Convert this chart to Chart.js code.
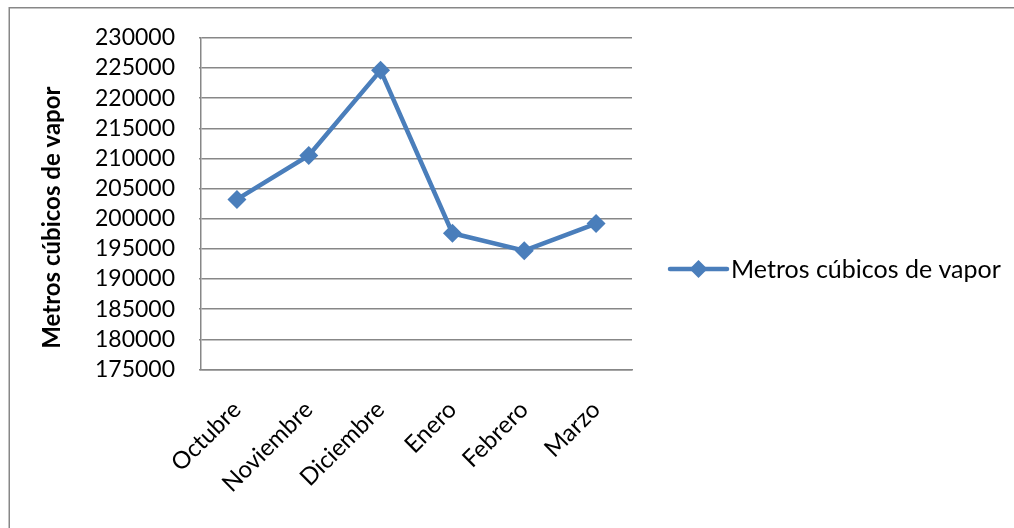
<!DOCTYPE html>
<html>
<head>
<meta charset="utf-8">
<script src="https://cdn.jsdelivr.net/npm/chart.js@4"></script>
<style>
  html, body { margin: 0; padding: 0; background: #fff; overflow: hidden; }
  #wrap { width: 1014px; height: 528px; position: relative; }
</style>
</head>
<body>
<div id="wrap"><canvas id="chart" width="1014" height="528"></canvas></div>
<script>
// Monthly steam volume
const months = ['Octubre', 'Noviembre', 'Diciembre', 'Enero', 'Febrero', 'Marzo'];
const steamVolume = [203200, 210500, 224600, 197600, 194700, 199200];
const seriesName = 'Metros cúbicos de vapor';
const axisTitle = 'Metros cúbicos de vapor';
const yMin = 175000;
const yMax = 230000;
const yStep = 5000;

const BLUE = '#4a7ebb';
const GRID = '#878787';
const FONT = 'Lato, "Open Sans", sans-serif';

// Outer frame of the chart box
const framePlugin = {
  id: 'frame',
  beforeDraw(chart) {
    const ctx = chart.ctx;
    ctx.save();
    ctx.fillStyle = '#fff';
    ctx.fillRect(0, 0, chart.width, chart.height);
    ctx.strokeStyle = GRID;
    ctx.lineWidth = 1.5;
    ctx.strokeRect(9.25, 7.75, chart.width + 20, chart.height + 20);
    ctx.restore();
  }
};

// Vertical value-axis title, sitting a little below the plot's middle
const axisTitlePlugin = {
  id: 'axisTitle',
  afterDraw(chart) {
    const ctx = chart.ctx;
    const area = chart.chartArea;
    ctx.save();
    ctx.translate(52, (area.top + area.bottom) / 2 + 14);
    ctx.rotate(-Math.PI / 2);
    ctx.fillStyle = '#000';
    ctx.font = 'bold 24px ' + FONT;
    ctx.textAlign = 'center';
    ctx.textBaseline = 'middle';
    ctx.fillText(axisTitle, 0, 0);
    ctx.restore();
  }
};

// Legend on the right: line sample with a diamond, then the series name
const sideLegend = {
  id: 'sideLegend',
  afterDraw(chart) {
    const ctx = chart.ctx;
    const area = chart.chartArea;
    const ds = chart.data.datasets[0];
    const x0 = area.right + 38;
    const y = 269;
    ctx.save();
    ctx.strokeStyle = ds.borderColor;
    ctx.lineWidth = 4.5;
    ctx.lineCap = 'round';
    ctx.beginPath(); ctx.moveTo(x0, y); ctx.lineTo(x0 + 57, y); ctx.stroke();
    ctx.fillStyle = ds.borderColor;
    const cx = x0 + 28.5;
    ctx.beginPath();
    ctx.moveTo(cx, y - 9); ctx.lineTo(cx + 9, y); ctx.lineTo(cx, y + 9); ctx.lineTo(cx - 9, y);
    ctx.closePath(); ctx.fill();
    ctx.fillStyle = '#000';
    ctx.font = '25px ' + FONT;
    ctx.textAlign = 'left';
    ctx.textBaseline = 'middle';
    ctx.fillText(ds.label, x0 + 61, y + 1);
    ctx.restore();
  }
};

new Chart(document.getElementById('chart'), {
  type: 'line',
  data: {
    labels: months,
    datasets: [{
      label: seriesName,
      data: steamVolume,
      borderColor: BLUE,
      backgroundColor: BLUE,
      borderWidth: 4.5,
      tension: 0,
      pointStyle: 'rectRot',
      pointRadius: 9.5,
      pointHoverRadius: 9.5,
      pointBorderWidth: 0,
      pointBackgroundColor: BLUE,
      fill: false
    }]
  },
  options: {
    responsive: false,
    animation: false,
    events: [],
    layout: { padding: { left: 67, top: 37, right: 382, bottom: 25 } },
    scales: {
      x: {
        offset: true,
        grid: { display: false, drawTicks: false },
        border: { display: true, color: GRID, width: 1.5 },
        ticks: {
          color: '#000',
          font: { family: FONT, size: 24 },
          minRotation: 45,
          maxRotation: 45,
          padding: 26,
          autoSkip: false
        },
        afterFit(scale) { scale.height = 133.5; }
      },
      y: {
        min: yMin,
        max: yMax,
        grid: { color: GRID, lineWidth: 1.5, drawTicks: true, tickLength: 2 },
        border: { display: true, color: GRID, width: 1.5 },
        ticks: {
          stepSize: yStep,
          autoSkip: false,
          color: '#000',
          font: { family: FONT, size: 23 },
          padding: 24,
          callback: v => String(v)
        },
        afterFit(scale) { scale.width = 134; }
      }
    },
    plugins: {
      tooltip: { enabled: false },
      legend: { display: false }
    }
  },
  plugins: [framePlugin, axisTitlePlugin, sideLegend]
});
</script>
</body>
</html>
